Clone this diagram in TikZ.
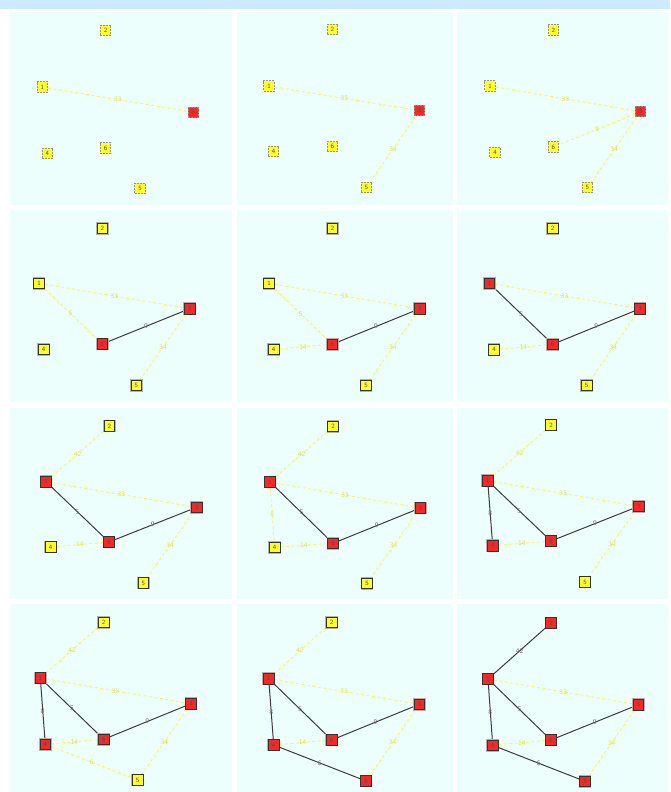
\documentclass[tikz,border=0pt]{standalone}
\pgfdeclarelayer{bg}
\pgfdeclarelayer{edges}
\pgfsetlayers{bg,edges,main}
\definecolor{topbar}{RGB}{205,235,255}
\definecolor{panelbg}{RGB}{236,255,253}
\definecolor{nyellow}{RGB}{255,255,40}
\definecolor{nred}{RGB}{245,40,40}
\definecolor{candc}{RGB}{250,250,80}
\definecolor{candt}{RGB}{225,225,70}
\definecolor{treec}{RGB}{60,60,60}
\definecolor{treet}{RGB}{110,110,110}
\tikzset{
  vbase/.style={rectangle, minimum size=10.5pt, inner sep=0pt, font=\sffamily\fontsize{6.5}{6.5}\selectfont, text=black!70},
  vsolid/.style={vbase, draw=black!80, line width=0.9pt, preaction={draw=gray!60, line width=2.2pt}},
  vdash/.style={vbase, draw=gray!85, line width=1pt, dash pattern=on 2pt off 1pt},
  yv/.style={vsolid, fill=nyellow},
  rv/.style={vsolid, fill=nred},
  ydv/.style={vdash, fill=nyellow},
  rdv/.style={vdash, fill=nred},
  cand/.style={draw=candc, line width=0.9pt, dash pattern=on 3pt off 2.5pt},
  tree/.style={draw=treec, line width=1pt},
  clab/.style={font=\sffamily\fontsize{7}{7}\selectfont, text=candt, inner sep=0pt},
  tlab/.style={font=\sffamily\fontsize{7}{7}\selectfont, text=treet, inner sep=0pt}
}
\begin{document}
\begin{tikzpicture}[x=1pt,y=-1pt]
\begin{pgfonlayer}{bg}
\fill[white] (0,0) rectangle (670,792);
\fill[topbar] (0,0) rectangle (670,9.5);
\foreach \ya/\yb in {12/205,210/402,408/599,604/792}{
  \foreach \xa/\xb in {10/232,237/453,457/668}{
    \fill[panelbg] (\xa,\ya) rectangle (\xb,\yb);
  }
}
\end{pgfonlayer}
% ---------- Panel 1,1
\node[ydv] (a1) at (42.3,87) {1};
\node[ydv] (a2) at (105.7,30.7) {2};
\node[rdv] (a3) at (193.3,112.3) {3};
\node[ydv] (a4) at (47.3,153.3) {4};
\node[ydv] (a5) at (140,188.7) {5};
\node[ydv] (a6) at (105.7,148) {6};
\begin{pgfonlayer}{edges}
\draw[cand] (a1) -- node[clab]{33} (a3);
\end{pgfonlayer}
% ---------- Panel 1,2
\node[ydv] (b1) at (269,86) {1};
\node[ydv] (b2) at (332.3,29.3) {2};
\node[rdv] (b3) at (419.7,110.7) {3};
\node[ydv] (b4) at (273.7,151.7) {4};
\node[ydv] (b5) at (366.3,187.3) {5};
\node[ydv] (b6) at (332.3,146.7) {6};
\begin{pgfonlayer}{edges}
\draw[cand] (b1) -- node[clab]{33} (b3);
\draw[cand] (b3) -- node[clab]{34} (b5);
\end{pgfonlayer}
% ---------- Panel 1,3
\node[ydv] (c1) at (490,86) {1};
\node[ydv] (c2) at (553.3,30) {2};
\node[rdv] (c3) at (640.7,111.7) {3};
\node[ydv] (c4) at (495,152.3) {4};
\node[ydv] (c5) at (587.3,187.7) {5};
\node[ydv] (c6) at (553.3,147) {6};
\begin{pgfonlayer}{edges}
\draw[cand] (c1) -- node[clab]{33} (c3);
\draw[cand] (c3) -- node[clab]{9} (c6);
\draw[cand] (c3) -- node[clab]{34} (c5);
\end{pgfonlayer}
% ---------- Panel 2,1
\node[yv] (d1) at (39,283.3) {1};
\node[yv] (d2) at (102.3,228.3) {2};
\node[rv] (d3) at (189.7,308.7) {3};
\node[yv] (d4) at (43.7,349.3) {4};
\node[yv] (d5) at (136.3,385.3) {5};
\node[rv] (d6) at (102.3,344) {6};
\begin{pgfonlayer}{edges}
\draw[cand] (d1) -- node[clab]{33} (d3);
\draw[cand] (d1) -- node[clab]{5} (d6);
\draw[tree] (d6) -- node[tlab]{9} (d3);
\draw[cand] (d3) -- node[clab]{34} (d5);
\end{pgfonlayer}
% ---------- Panel 2,2
\node[yv] (e1) at (269,283.3) {1};
\node[yv] (e2) at (332.3,228.3) {2};
\node[rv] (e3) at (419.7,308.7) {3};
\node[yv] (e4) at (273.7,349.3) {4};
\node[yv] (e5) at (366,385.3) {5};
\node[rv] (e6) at (332.3,344.3) {6};
\begin{pgfonlayer}{edges}
\draw[cand] (e1) -- node[clab]{33} (e3);
\draw[cand] (e1) -- node[clab]{5} (e6);
\draw[cand] (e4) -- node[clab]{14} (e6);
\draw[tree] (e6) -- node[tlab]{9} (e3);
\draw[cand] (e3) -- node[clab]{34} (e5);
\end{pgfonlayer}
% ---------- Panel 2,3
\node[rv] (f1) at (489.3,283.3) {1};
\node[yv] (f2) at (552.7,228.3) {2};
\node[rv] (f3) at (640,308.7) {3};
\node[yv] (f4) at (494,349.7) {4};
\node[yv] (f5) at (586.7,385.3) {5};
\node[rv] (f6) at (552.7,344.3) {6};
\begin{pgfonlayer}{edges}
\draw[cand] (f1) -- node[clab]{33} (f3);
\draw[tree] (f1) -- node[tlab]{5} (f6);
\draw[cand] (f4) -- node[clab]{14} (f6);
\draw[tree] (f6) -- node[tlab]{9} (f3);
\draw[cand] (f3) -- node[clab]{34} (f5);
\end{pgfonlayer}
% ---------- Panel 3,1
\node[rv] (g1) at (46,481.7) {1};
\node[yv] (g2) at (109.3,426) {2};
\node[rv] (g3) at (196.7,507.3) {3};
\node[yv] (g4) at (50.7,547) {4};
\node[yv] (g5) at (143.3,583) {5};
\node[rv] (g6) at (109,542) {6};
\begin{pgfonlayer}{edges}
\draw[cand] (g1) -- node[clab]{42} (g2);
\draw[cand] (g1) -- node[clab]{33} (g3);
\draw[tree] (g1) -- node[tlab]{5} (g6);
\draw[cand] (g4) -- node[clab]{14} (g6);
\draw[tree] (g6) -- node[tlab]{9} (g3);
\draw[cand] (g3) -- node[clab]{34} (g5);
\end{pgfonlayer}
% ---------- Panel 3,2
\node[rv] (h1) at (270,482) {1};
\node[yv] (h2) at (333,426.3) {2};
\node[rv] (h3) at (420.3,508) {3};
\node[yv] (h4) at (274.7,547.3) {4};
\node[yv] (h5) at (367,583.3) {5};
\node[rv] (h6) at (333,543.3) {6};
\begin{pgfonlayer}{edges}
\draw[cand] (h1) -- node[clab]{42} (h2);
\draw[cand] (h1) -- node[clab]{33} (h3);
\draw[cand] (h1) -- node[clab]{8} (h4);
\draw[tree] (h1) -- node[tlab]{5} (h6);
\draw[cand] (h4) -- node[clab]{14} (h6);
\draw[tree] (h6) -- node[tlab]{9} (h3);
\draw[cand] (h3) -- node[clab]{34} (h5);
\end{pgfonlayer}
% ---------- Panel 3,3
\node[rv] (i1) at (487.7,480.7) {1};
\node[yv] (i2) at (551,425) {2};
\node[rv] (i3) at (638.7,506.3) {3};
\node[rv] (i4) at (492.7,545.7) {4};
\node[yv] (i5) at (585,582) {5};
\node[rv] (i6) at (551,541) {6};
\begin{pgfonlayer}{edges}
\draw[cand] (i1) -- node[clab]{42} (i2);
\draw[cand] (i1) -- node[clab]{33} (i3);
\draw[tree] (i1) -- node[tlab]{8} (i4);
\draw[tree] (i1) -- node[tlab]{5} (i6);
\draw[cand] (i4) -- node[clab]{14} (i6);
\draw[tree] (i6) -- node[tlab]{9} (i3);
\draw[cand] (i3) -- node[clab]{34} (i5);
\end{pgfonlayer}
% ---------- Panel 4,1
\node[rv] (j1) at (40.3,678) {1};
\node[yv] (j2) at (103.7,622.3) {2};
\node[rv] (j3) at (191,703.7) {3};
\node[rv] (j4) at (45.3,744.3) {4};
\node[yv] (j5) at (137.7,780) {5};
\node[rv] (j6) at (103.7,739.3) {6};
\begin{pgfonlayer}{edges}
\draw[cand] (j1) -- node[clab]{42} (j2);
\draw[cand] (j1) -- node[clab]{33} (j3);
\draw[tree] (j1) -- node[tlab]{8} (j4);
\draw[tree] (j1) -- node[tlab]{5} (j6);
\draw[cand] (j4) -- node[clab]{14} (j6);
\draw[cand] (j4) -- node[clab]{6} (j5);
\draw[tree] (j6) -- node[tlab]{9} (j3);
\draw[cand] (j3) -- node[clab]{34} (j5);
\end{pgfonlayer}
% ---------- Panel 4,2
\node[rv] (k1) at (268.7,678.7) {1};
\node[yv] (k2) at (331.7,622.3) {2};
\node[rv] (k3) at (419.3,704.3) {3};
\node[rv] (k4) at (273.7,745) {4};
\node[rv] (k5) at (366,781) {5};
\node[rv] (k6) at (331.7,740) {6};
\begin{pgfonlayer}{edges}
\draw[cand] (k1) -- node[clab]{42} (k2);
\draw[cand] (k1) -- node[clab]{33} (k3);
\draw[tree] (k1) -- node[tlab]{8} (k4);
\draw[tree] (k1) -- node[tlab]{5} (k6);
\draw[cand] (k4) -- node[clab]{14} (k6);
\draw[tree] (k4) -- node[tlab]{6} (k5);
\draw[tree] (k6) -- node[tlab]{9} (k3);
\draw[cand] (k3) -- node[clab]{34} (k5);
\end{pgfonlayer}
% ---------- Panel 4,3
\node[rv] (l1) at (488,679) {1};
\node[rv] (l2) at (551,623) {2};
\node[rv] (l3) at (638.3,704.7) {3};
\node[rv] (l4) at (492.7,745.3) {4};
\node[rv] (l5) at (585,781.3) {5};
\node[rv] (l6) at (551,740) {6};
\begin{pgfonlayer}{edges}
\draw[tree] (l1) -- node[tlab]{42} (l2);
\draw[cand] (l1) -- node[clab]{33} (l3);
\draw[tree] (l1) -- node[tlab]{8} (l4);
\draw[tree] (l1) -- node[tlab]{5} (l6);
\draw[cand] (l4) -- node[clab]{14} (l6);
\draw[tree] (l4) -- node[tlab]{6} (l5);
\draw[tree] (l6) -- node[tlab]{9} (l3);
\draw[cand] (l3) -- node[clab]{34} (l5);
\end{pgfonlayer}
\end{tikzpicture}
\end{document}
